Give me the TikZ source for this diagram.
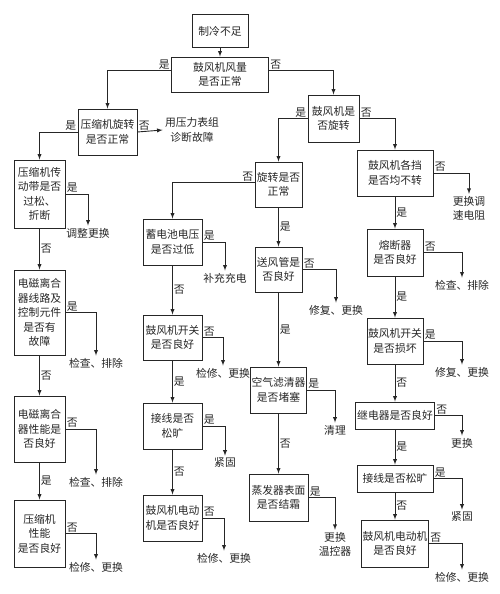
\documentclass[tikz,border=0pt]{standalone}
\usepackage{fontspec}
\setmainfont{Noto Sans CJK SC}

\tikzset{
  box/.style={draw, align=center, inner sep=0.5pt},
  res/.style={align=center, inner sep=2pt},
  lbl/.style={inner sep=1pt}
}

\begin{document}
\begin{tikzpicture}[x=1pt, y=-1pt, font=\fontsize{10.8}{14.5}\selectfont,
  >=latex, line width=0.9pt, draw=black!85, text=black!85]
\useasboundingbox (0,0) rectangle (500,594);

% top
\node[box, minimum width=56pt, minimum height=33pt] (start) at (220,31) {制冷不足};
\node[box, minimum width=97pt, minimum height=35pt] (q1) at (220,74.5) {鼓风机风量\\是否正常};

% compressor branch
\node[box, minimum width=59pt, minimum height=46pt] (q2) at (107.5,132) {压缩机旋转\\是否正常};
\node[res] (r2) at (192,130) {用压力表组\\诊断故障};
\node[box, minimum width=51pt, minimum height=68pt] (q3) at (39.5,194) {压缩机传\\动带是否\\过松、\\折断};
\node[res] (r3) at (88,233) {调整更换};
\node[box, minimum width=51pt, minimum height=85pt] (q4) at (39.5,312.5) {电磁离合\\器线路及\\控制元件\\是否有\\故障};
\node[res] (r4) at (96,363) {检查、排除};
\node[box, minimum width=51pt, minimum height=66pt] (q5) at (39.5,429) {电磁离合\\器性能是\\否良好};
\node[res] (r5) at (96,482) {检查、排除};
\node[box, minimum width=51pt, minimum height=67pt] (q6) at (39.5,533.5) {压缩机\\性能\\是否良好};
\node[res] (r6) at (96,567) {检修、更换};

% blower branch
\node[box, minimum width=51pt, minimum height=47pt] (q7) at (333.5,118.5) {鼓风机是\\否旋转};
\node[box, minimum width=47pt, minimum height=45pt] (q8) at (278.5,184.5) {旋转是否\\正常};

\node[box, minimum width=59pt, minimum height=46pt] (q9) at (172.5,242) {蓄电池电压\\是否过低};
\node[res] (r9) at (225,278) {补充充电};
\node[box, minimum width=59pt, minimum height=45pt] (q10) at (172.5,337.5) {鼓风机开关\\是否良好};
\node[res] (r10) at (223,373) {检修、更换};
\node[box, minimum width=59pt, minimum height=46pt] (q11) at (172.5,426) {接线是否\\松旷};
\node[res] (r11) at (225,463) {紧固};
\node[box, minimum width=59pt, minimum height=46pt] (q12) at (172.5,518) {鼓风机电动\\机是否良好};
\node[res] (r12) at (224,558) {检修、更换};

\node[box, minimum width=47pt, minimum height=45pt] (q13) at (278.5,269.5) {送风管是\\否良好};
\node[res] (r13) at (336,310) {修复、更换};
\node[box, minimum width=56pt, minimum height=46pt] (q14) at (278.5,390) {空气滤清器\\是否堵塞};
\node[res] (r14) at (335,430) {清理};
\node[box, minimum width=59pt, minimum height=47pt] (q15) at (278.5,497.5) {蒸发器表面\\是否结霜};
\node[res] (r15) at (335,544.5) {更换\\温控器};

\node[box, minimum width=76pt, minimum height=46pt] (q16) at (395,173) {鼓风机各挡\\是否均不转};
\node[res] (r16) at (469,208.5) {更换调\\速电阻};
\node[box, minimum width=56pt, minimum height=47pt] (q17) at (395,252.5) {熔断器\\是否良好};
\node[res] (r17) at (462,285) {检查、排除};
\node[box, minimum width=56pt, minimum height=46pt] (q18) at (395,341) {鼓风机开关\\是否损坏};
\node[res] (r18) at (462,372) {修复、更换};
\node[box, minimum width=79pt, minimum height=27pt] (q19) at (395,415.5) {继电器是否良好};
\node[res] (r19) at (462,443) {更换};
\node[box, minimum width=76pt, minimum height=27pt] (q20) at (395,478.5) {接线是否松旷};
\node[res] (r20) at (462,517) {紧固};
\node[box, minimum width=67pt, minimum height=47pt] (q21) at (395,543.5) {鼓风机电动机\\是否良好};
\node[res] (r21) at (462,577) {检修、更换};

% connectors
\draw[->] (start) -- (q1);
\draw[->] ([yshift=4pt]q1.west) -| node[lbl, pos=0, above left] {是} (q2.north);
\draw[->] ([yshift=4pt]q1.east) -| node[lbl, pos=0, above right] {否} (q7.north);

\draw[->] (q2.east) -- node[lbl, pos=0, above right] {否} (r2.west);
\draw[->] (q2.west) -| node[lbl, pos=0, above left] {是} (q3.north);
\draw[->] (q3.east) -| node[lbl, pos=0, above right] {是} (r3.north);
\draw[->] (q3) -- node[lbl, right] {否} (q4);
\draw[->] (q4.east) -| node[lbl, pos=0, above right] {是} (r4.north);
\draw[->] (q4) -- node[lbl, right] {否} (q5);
\draw[->] (q5.east) -| node[lbl, pos=0, above right] {否} (r5.north);
\draw[->] (q5) -- node[lbl, right] {是} (q6);
\draw[->] (q6.east) -| node[lbl, pos=0, above right] {否} (r6.north);

\draw[->] (q7.west) -| node[lbl, pos=0, above left] {是} (q8.north);
\draw[->] (q7.east) -| node[lbl, pos=0, above right] {否} (q16.north);
\draw[->] ([yshift=2pt]q8.west) -| node[lbl, pos=0, above left] {否} (q9.north);
\draw[->] (q8) -- node[lbl, right] {是} (q13);

\draw[->] (q9.east) -| node[lbl, pos=0, above right] {是} (r9.north);
\draw[->] (q9) -- node[lbl, right] {否} (q10);
\draw[->] (q10.east) -| node[lbl, pos=0, above right] {否} (r10.north);
\draw[->] (q10) -- node[lbl, right] {是} (q11);
\draw[->] (q11.east) -| node[lbl, pos=0, above right] {是} (r11.north);
\draw[->] (q11) -- node[lbl, right] {否} (q12);
\draw[->] (q12.east) -| node[lbl, pos=0, above right] {否} (r12.north);

\draw[->] (q13.east) -| node[lbl, pos=0, above right] {否} (r13.north);
\draw[->] (q13) -- node[lbl, right] {是} (q14);
\draw[->] (q14.east) -| node[lbl, pos=0, above right] {是} (r14.north);
\draw[->] (q14) -- node[lbl, right] {否} (q15);
\draw[->] (q15.east) -| node[lbl, pos=0, above right] {是} (r15.north);

\draw[->] (q16.east) -| node[lbl, pos=0, above right] {否} (r16.north);
\draw[->] (q16) -- node[lbl, right] {是} (q17);
\draw[->] (q17.east) -| node[lbl, pos=0, above right] {否} (r17.north);
\draw[->] (q17) -- node[lbl, right] {是} (q18);
\draw[->] (q18.east) -| node[lbl, pos=0, above right] {是} (r18.north);
\draw[->] (q18) -- node[lbl, right] {否} (q19);
\draw[->] (q19.east) -| node[lbl, pos=0, above right] {否} (r19.north);
\draw[->] (q19) -- node[lbl, right] {是} (q20);
\draw[->] (q20.east) -| node[lbl, pos=0, above right] {是} (r20.north);
\draw[->] (q20) -- node[lbl, right] {否} (q21);
\draw[->] (q21.east) -| node[lbl, pos=0, above right] {否} (r21.north);
\end{tikzpicture}
\end{document}
